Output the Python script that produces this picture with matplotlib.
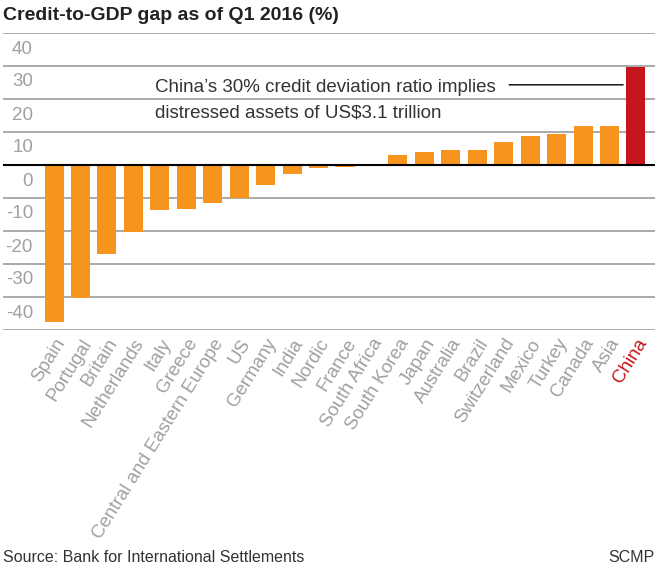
import matplotlib
matplotlib.use("Agg")
import matplotlib.pyplot as plt
from matplotlib.transforms import ScaledTranslation
from matplotlib import font_manager

countries = ["Spain", "Portugal", "Britain", "Netherlands", "Italy", "Greece",
             "Central and Eastern Europe", "US", "Germany", "India", "Nordic",
             "France", "South Africa", "South Korea", "Japan", "Australia",
             "Brazil", "Switzerland", "Mexico", "Turkey", "Canada", "Asia", "China"]
gap = [-47.5, -40.3, -27.0, -20.3, -13.6, -13.3, -11.5, -10.0, -6.0, -2.8, -1.0,
       -0.6, 0.0, 3.0, 3.9, 4.5, 4.6, 7.0, 8.8, 9.5, 11.9, 11.9, 29.8]
yticks = [40, 30, 20, 10, 0, -10, -20, -30, -40]

names = {f.name for f in font_manager.fontManager.ttflist}
FAM = ["Liberation Sans Narrow", "DejaVu Sans"] if "Liberation Sans Narrow" in names else ["Liberation Sans", "DejaVu Sans"]
plt.rcParams['font.family'] = FAM

ORANGE = "#f7941d"
RED = "#c4161c"
GRAY = "#a0a0a0"

fig = plt.figure(figsize=(6.6, 5.68), dpi=100)
ax = fig.add_axes([3/660, 1 - 330/568, (655 - 3)/660, (330 - 33)/568])

x = list(range(len(countries)))
colors = [RED if c == "China" else ORANGE for c in countries]
ax.bar(x, gap, width=0.72, color=colors, zorder=3)

ax.set_xlim(-1.93, 22.72)
ax.set_ylim(-50, 40)
ax.set_yticks(yticks + [-50])
ax.grid(axis='y', color="#aaaaaa", linewidth=1.4, zorder=0)
ax.axhline(0, color="black", linewidth=1.5, zorder=4)
for s in ax.spines.values():
    s.set_visible(False)

ax.set_yticklabels([str(v) for v in yticks] + [""])
ax.tick_params(axis='y', length=0, pad=-21.6, labelsize=13.5, labelcolor=GRAY)
off = ScaledTranslation(0, -16/100, fig.dpi_scale_trans)
for lab in ax.get_yticklabels():
    lab.set_ha('right')
    lab.set_va('center')
    lab.set_transform(lab.get_transform() + off)

ax.set_xticks(x)
ax.set_xticklabels(countries, rotation=58, ha='right', rotation_mode='anchor')
ax.tick_params(axis='x', length=0, pad=4, labelsize=13.5, labelcolor=GRAY)
for lab in ax.get_xticklabels():
    if lab.get_text() == "China":
        lab.set_color(RED)

ax.text(3.82, 23.6, "China\u2019s 30% credit deviation ratio implies", fontsize=13.5,
        color="#333333", va='center', ha='left', zorder=5)
ax.text(3.82, 15.8, "distressed assets of US$3.1 trillion", fontsize=13.5,
        color="#333333", va='center', ha='left', zorder=5)
ax.annotate("", xy=(21.62, 24.3), xytext=(17.1, 24.3),
            arrowprops=dict(arrowstyle='-', color='black', linewidth=1.0))

fig.text(3/660, 1 - 16/568, "Credit-to-GDP gap as of Q1 2016 (%)", fontsize=14,
         fontweight='bold', color="#222222", va='center', ha='left')
fig.text(3/660, 1 - 557/568, "Source: Bank for International Settlements", fontsize=11.5,
         color="#333333", va='center', ha='left')
fig.text(655/660, 1 - 557/568, "SCMP", fontsize=11.5, color="#333333", va='center', ha='right')

fig.savefig("out.png", dpi=100)
